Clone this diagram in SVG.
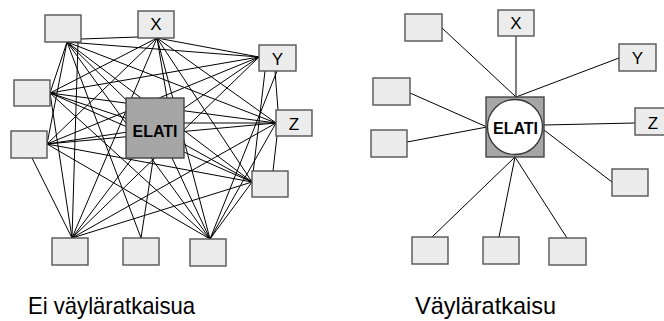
<svg xmlns="http://www.w3.org/2000/svg" width="664" height="321" viewBox="0 0 664 321">
<style>
.box{fill:#ececec;stroke:#555;stroke-width:1.4}
.hub{fill:#a6a6a6;stroke:#444;stroke-width:1.4}
.circ{fill:#fff;stroke:#333;stroke-width:1.3}
.lbl{font-family:"Liberation Sans",Arial,sans-serif;font-size:17px;fill:#000;text-anchor:middle}
.hubt{font-family:"Liberation Sans",Arial,sans-serif;font-size:16px;font-weight:bold;fill:#000;text-anchor:middle}
.cap{font-family:"Liberation Sans",Arial,sans-serif;font-size:24px;fill:#000}
#conn line{stroke:#000;stroke-width:1}
</style>
<rect width="664" height="321" fill="#fff"/>
<g id="conn">
<line x1="81" y1="39" x2="138" y2="37"/>
<line x1="67" y1="42" x2="259" y2="57"/>
<line x1="67" y1="42" x2="50" y2="93"/>
<line x1="67" y1="42" x2="47" y2="144"/>
<line x1="67" y1="42" x2="276" y2="123"/>
<line x1="67" y1="42" x2="252" y2="182"/>
<line x1="78" y1="42" x2="72" y2="238"/>
<line x1="67" y1="42" x2="141" y2="238"/>
<line x1="67" y1="42" x2="210" y2="239"/>
<line x1="67" y1="42" x2="155" y2="128"/>
<line x1="157" y1="38" x2="259" y2="57"/>
<line x1="157" y1="38" x2="50" y2="93"/>
<line x1="157" y1="38" x2="47" y2="144"/>
<line x1="157" y1="38" x2="276" y2="123"/>
<line x1="157" y1="38" x2="252" y2="182"/>
<line x1="157" y1="38" x2="72" y2="238"/>
<line x1="157" y1="38" x2="210" y2="239"/>
<line x1="157" y1="38" x2="172" y2="128"/>
<line x1="259" y1="57" x2="50" y2="93"/>
<line x1="259" y1="57" x2="47" y2="144"/>
<line x1="275" y1="71" x2="278" y2="110"/>
<line x1="265" y1="71" x2="252" y2="182"/>
<line x1="259" y1="57" x2="72" y2="238"/>
<line x1="277" y1="71" x2="210" y2="239"/>
<line x1="259" y1="57" x2="155" y2="128"/>
<line x1="50" y1="93" x2="276" y2="123"/>
<line x1="50" y1="93" x2="252" y2="182"/>
<line x1="50" y1="93" x2="72" y2="238"/>
<line x1="50" y1="93" x2="210" y2="239"/>
<line x1="50" y1="93" x2="155" y2="128"/>
<line x1="276" y1="123" x2="47" y2="144"/>
<line x1="277" y1="136" x2="273" y2="171"/>
<line x1="276" y1="123" x2="72" y2="238"/>
<line x1="276" y1="123" x2="210" y2="239"/>
<line x1="276" y1="123" x2="155" y2="123"/>
<line x1="47" y1="144" x2="252" y2="182"/>
<line x1="32" y1="158" x2="72" y2="238"/>
<line x1="47" y1="144" x2="210" y2="239"/>
<line x1="47" y1="144" x2="155" y2="128"/>
<line x1="252" y1="182" x2="72" y2="238"/>
<line x1="252" y1="182" x2="210" y2="239"/>
<line x1="252" y1="182" x2="155" y2="128"/>
<line x1="72" y1="238" x2="155" y2="128"/>
<line x1="141" y1="238" x2="158" y2="128"/>
<line x1="210" y1="239" x2="158" y2="128"/>
<line x1="442" y1="28" x2="516" y2="97"/>
<line x1="516" y1="36" x2="516" y2="97"/>
<line x1="619" y1="58" x2="516" y2="97"/>
<line x1="410" y1="93" x2="487" y2="127"/>
<line x1="407" y1="142" x2="487" y2="127"/>
<line x1="635" y1="123" x2="544" y2="125"/>
<line x1="612" y1="182" x2="544" y2="130"/>
<line x1="432" y1="237" x2="515" y2="157"/>
<line x1="499" y1="237" x2="515" y2="157"/>
<line x1="567" y1="238" x2="515" y2="157"/>
</g>
<g id="l-a"><rect class="box" x="45" y="15" width="36" height="27"/></g>
<g id="l-x"><rect class="box" x="138" y="11" width="36" height="27"/><text class="lbl" x="156" y="30">X</text></g>
<g id="l-y"><rect class="box" x="259" y="45" width="37" height="26"/><text class="lbl" x="277.5" y="65">Y</text></g>
<g id="l-l2"><rect class="box" x="14" y="80" width="36" height="26"/></g>
<g id="l-z"><rect class="box" x="276" y="110" width="36" height="26"/><text class="lbl" x="294" y="130">Z</text></g>
<g id="l-l3"><rect class="box" x="11" y="131" width="36" height="27"/></g>
<g id="l-r"><rect class="box" x="252" y="171" width="36" height="26"/></g>
<g id="l-b1"><rect class="box" x="52" y="238" width="36" height="27"/></g>
<g id="l-b2"><rect class="box" x="123" y="238" width="36" height="27"/></g>
<g id="l-b3"><rect class="box" x="190" y="239" width="36" height="27"/></g>
<g id="l-elati"><rect class="hub" x="126" y="98" width="58" height="60"/><text class="hubt" x="155" y="137">ELATI</text></g>
<g id="r-a"><rect class="box" x="405" y="14" width="37" height="27"/></g>
<g id="r-x"><rect class="box" x="498" y="10" width="36" height="26"/><text class="lbl" x="516" y="29">X</text></g>
<g id="r-y"><rect class="box" x="619" y="44" width="37" height="27"/><text class="lbl" x="637.5" y="64">Y</text></g>
<g id="r-l2"><rect class="box" x="373" y="78" width="37" height="27"/></g>
<g id="r-z"><rect class="box" x="635" y="108" width="36" height="27"/><text class="lbl" x="653" y="129">Z</text></g>
<g id="r-l3"><rect class="box" x="371" y="130" width="36" height="27"/></g>
<g id="r-r"><rect class="box" x="612" y="169" width="36" height="27"/></g>
<g id="r-b1"><rect class="box" x="412" y="237" width="36" height="27"/></g>
<g id="r-b2"><rect class="box" x="483" y="237" width="36" height="27"/></g>
<g id="r-b3"><rect class="box" x="549" y="238" width="37" height="27"/></g>
<g id="r-elati"><rect class="hub" x="486" y="97" width="58" height="60"/><circle class="circ" cx="515" cy="127" r="27.5"/><text class="hubt" x="515.5" y="134">ELATI</text></g>
<text class="cap" x="28" y="314" textLength="167" lengthAdjust="spacingAndGlyphs">Ei väyläratkaisua</text>
<text class="cap" x="415" y="314" textLength="141" lengthAdjust="spacingAndGlyphs">Väyläratkaisu</text>
</svg>
